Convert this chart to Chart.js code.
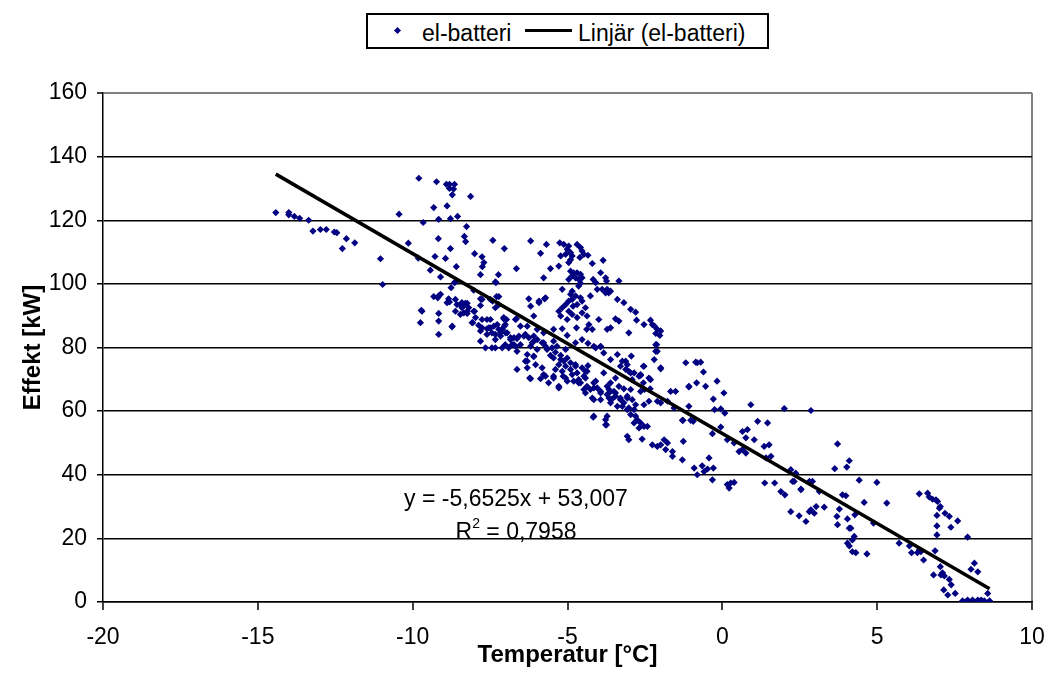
<!DOCTYPE html>
<html>
<head>
<meta charset="utf-8">
<script src="https://cdn.jsdelivr.net/npm/chart.js@4/dist/chart.umd.min.js"></script>
<style>
  html, body { margin: 0; padding: 0; background: #fff; }
  #wrap { position: relative; width: 1049px; height: 695px; }
  #legend { position: absolute; left: 366px; top: 13px; width: 403px; height: 36px;
            border: 2px solid #000; box-sizing: border-box; background: #fff; }
  .lg { position: absolute; font: 23px "Liberation Sans", Arial, sans-serif; line-height: 23px;
        white-space: nowrap; color: #000; }
  .dia { position: absolute; left: 26.5px; top: 12.5px; width: 5px; height: 5px;
         background: #000080; transform: rotate(45deg); }
  .ln { position: absolute; left: 157px; top: 14px; width: 47px; height: 3px; background: #000; }
</style>
</head>
<body>
<div id="wrap">
  <canvas id="chart" width="1049" height="695"></canvas>
  <div id="legend">
    <span class="dia"></span>
    <span class="lg" style="left:54px;top:7px;">el-batteri</span>
    <span class="ln"></span>
    <span class="lg" style="left:210px;top:7px;">Linjär (el-batteri)</span>
  </div>
</div>
<script>
const coldPts = [
  [-14.42,122.4],[-14.0,122.4],[-14.0,121.7],[-13.82,121.2],[-13.65,120.6],[-13.36,120.0],
  [-13.22,116.6],[-12.98,117.1],[-12.79,117.1],[-12.53,116.3],[-12.45,116.1],[-12.14,114.2],
  [-12.27,111.1],[-11.87,112.9],[-11.04,107.9],[-10.97,99.8],[-10.44,121.9],[-10.14,112.8]
];

const earlyPts = [
  [-9.80,133.2],[-9.66,119.3],[-9.82,108.1],[-9.43,104.3],[-9.32,124.0],[-9.23,132.1],
  [-9.16,120.3],[-9.17,114.2],[-9.28,108.6],[-8.94,108.0],[-9.10,102.2],[-8.91,131.3],
  [-8.81,131.3],[-8.65,131.3],[-8.68,129.8],[-8.81,130.0],[-8.72,128.0],[-8.89,124.5],
  [-8.78,120.5],[-8.55,121.2],[-8.13,127.5],[-8.26,118.0],[-8.33,114.9],[-8.29,113.3],
  [-8.78,111.1],[-8.59,105.4],[-8.0,109.5],[-7.76,108.5],[-7.70,106.7],[-7.75,105.4],
  [-7.41,113.7],[-7.04,111.1],[-6.65,104.8],[-7.23,102.9],[-7.81,102.9],[-7.31,100.4],
  [-8.65,100.4],[-8.76,98.8],[-8.03,98.0],[-9.32,96.0],[-9.16,96.2],[-9.10,96.7],
  [-8.84,95.3],[-8.81,94.3],[-8.62,95.1],[-8.57,93.5],[-8.41,94.1],[-8.33,93.2],
  [-8.24,93.9],[-8.19,92.5],[-7.81,95.3],[-7.81,93.2],[-7.22,96.0],[-7.42,94.6],
  [-9.72,91.7],[-9.75,87.8],[-9.16,90.7],[-9.16,88.3],[-8.72,86.7],[-9.16,84.1],
  [-8.35,90.9],[-8.46,90.4],[-8.24,90.7],[-8.0,91.4],[-8.06,87.8],[-7.76,88.8],
  [-7.60,88.8],[-7.49,88.8],[-7.87,87.0],[-7.76,86.2],[-7.60,85.9],[-7.49,86.2],
  [-7.27,87.2],[-7.22,85.7],[-7.16,84.6],[-7.33,84.1],[-6.95,84.6],[-7.06,89.0],
  [-6.65,89.0],[-8.62,100.6],[-7.33,100.6],[-9.19,95.6],[-8.89,94.1],[-8.46,93.5],
  [-8.30,93.9],[-8.41,92.5],[-8.24,91.4],[-8.62,91.4],[-9.70,91.4],[-8.73,86.5],
  [-8.03,91.4],[-7.97,89.4],[-8.08,87.8],[-7.76,95.1],[-7.49,95.1],[-7.29,96.0],
  [-7.22,93.5],[-7.33,92.5],[-7.54,86.2],[-7.38,86.7],[-7.81,85.2],[-7.60,84.1],
  [-7.44,84.6],[-7.81,82.0],[-7.33,82.5],[-7.16,83.6],[-7.33,79.9],[-7.65,79.9],
  [-7.44,79.9],[-7.0,84.6],[-6.97,88.8],[-7.04,86.7],[-6.84,82.5],[-6.73,83.1],
  [-6.63,82.8],[-6.79,80.9],[-6.68,80.4],[-6.52,80.9],[-6.63,78.8],[-6.90,79.9],
  [-7.11,79.9]
];

const upperPts = [
  [-6.19,113.5],[-5.68,112.4],[-5.25,112.9],[-5.12,112.4],[-4.96,111.9],[-5.01,110.9],
  [-4.90,109.8],[-4.85,108.8],[-4.69,112.4],[-4.58,111.4],[-4.53,110.3],[-4.47,109.3],
  [-4.34,109.0],[-4.60,108.3],[-5.87,109.6],[-5.22,108.8],[-5.06,109.3],[-4.90,107.6],
  [-4.96,106.7],[-5.55,104.8],[-5.28,105.6],[-4.20,106.4],[-3.85,107.4],[-5.77,101.9],
  [-4.90,104.0],[-4.80,103.5],[-4.69,103.5],[-4.58,103.0],[-4.85,102.5],[-4.74,101.9],
  [-4.96,101.4],[-4.64,101.4],[-4.53,101.9],[-3.93,103.5],[-4.17,101.4],[-4.09,100.4],
  [-3.74,100.9],[-3.77,101.9],[-3.34,100.9],[-5.17,98.3],[-4.85,97.7],[-4.64,99.3],
  [-4.58,100.2],[-4.04,98.3],[-3.88,98.3],[-3.72,98.3],[-3.61,97.7],[-3.67,97.2],
  [-3.77,97.2],[-4.26,96.2],[-6.25,95.3],[-5.92,94.6],[-6.19,93.0],[-5.71,95.6],
  [-4.90,96.7],[-4.96,94.6],[-4.85,95.1],[-4.74,96.2],[-4.58,95.6],[-4.53,94.6],
  [-4.69,93.5],[-4.82,93.0],[-5.06,93.5],[-5.17,92.5],[-5.28,91.4],[-5.22,89.9],
  [-4.96,91.4],[-4.85,90.4],[-4.53,90.9],[-5.01,88.8],[-4.69,89.4],[-4.42,92.5],
  [-4.37,89.9],[-3.39,95.1],[-3.18,94.1],[-2.96,92.0],[-2.80,91.1],[-2.77,88.6],
  [-2.32,88.6],[-2.26,87.2],[-2.19,86.7],[-2.10,85.7],[-2.15,84.4],[-2.53,87.2],
  [-1.99,85.2],[-2.02,83.8],[-3.99,88.8],[-3.72,85.7],[-3.61,86.2],[-3.45,89.0],
  [-3.34,88.3],[-4.31,87.2],[-4.20,85.7],[-4.38,85.7],[-4.71,86.2],[-5.45,85.7],
  [-5.17,85.9],[-5.01,83.8],[-3.02,84.6],[-5.92,94.1],[-5.74,95.3],[-6.09,89.9],
  [-6.30,86.7],[-5.98,85.7],[-5.77,84.6],[-6.41,83.6],[-6.09,82.0],[-5.82,81.5],
  [-6.19,80.4],[-5.98,79.4],[-5.71,80.4],[-5.45,82.0]
];

const densePts = [
  [-7.06,89.4],[-7.01,87.2],[-7.11,85.7],[-6.68,88.8],[-6.52,86.7],[-6.57,83.6],
  [-6.36,84.1],[-6.25,83.1],[-6.09,83.6],[-5.98,82.5],[-6.14,81.5],[-6.84,83.1],
  [-6.73,80.9],[-7.01,80.9],[-5.77,81.5],[-5.66,79.4],[-5.50,79.9],[-5.34,80.4],
  [-5.39,78.5],[-5.22,77.5],[-5.55,77.5],[-5.06,79.4],[-6.09,77.3],[-6.30,75.7],
  [-6.03,74.6],[-5.45,76.7],[-5.22,76.2],[-5.12,75.7],[-5.01,76.7],[-4.90,75.2],
  [-5.28,74.6],[-5.06,74.1],[-5.39,73.1],[-5.17,72.5],[-4.90,73.1],[-4.74,74.1],
  [-4.85,71.5],[-5.06,70.4],[-4.69,72.0],[-4.64,69.9],[-4.47,71.0],[-4.53,73.6],
  [-4.42,72.5],[-4.34,74.3],[-6.22,70.4],[-5.87,70.2],[-5.71,71.0],[-5.61,68.9],
  [-5.45,70.4],[-5.28,67.8],[-4.80,69.4],[-4.58,68.9],[-4.37,67.8],[-4.42,65.7],
  [-4.26,66.8],[-4.15,68.9],[-4.04,67.3],[-3.93,65.7],[-4.20,64.1],[-3.93,63.6],
  [-3.72,65.2],[-3.66,66.8],[-3.50,66.2],[-3.45,64.7],[-3.61,62.6],[-3.29,64.1],
  [-3.18,62.6],[-3.07,64.7],[-3.39,61.5],[-3.39,77.8],[-3.83,78.3],[-3.61,76.2],
  [-3.12,73.1],[-2.85,72.0],[-2.91,69.9],[-3.07,60.5],[-2.85,60.5],[-2.96,58.9],
  [-2.80,58.4],[-2.75,57.3],[-2.64,56.3],[-2.85,56.3],[-2.53,55.2],[-2.69,54.7],
  [-2.42,55.2],[-4.15,58.4],[-3.72,58.4],[-3.74,55.7],[-2.53,62.0],[-2.37,63.1],
  [-6.63,73.1],[-6.30,73.6],[-6.19,70.2],[-5.82,73.6],[-5.77,71.5],[-5.45,71.0],
  [-5.28,67.3],[-5.14,71.0],[-5.01,69.4],[-6.09,77.1],[-6.36,75.7],[-6.30,77.8],
  [-4.15,80.4],[-3.93,80.4],[-2.12,80.9],[-2.10,78.8],[-2.94,77.3],[-3.23,75.7],
  [-3.12,75.7],[-3.29,74.1],[-3.02,72.5],[-2.96,72.0],[-3.07,74.6],[-2.55,74.1],
  [-1.99,73.3],[-2.64,71.5],[-2.37,70.4],[-2.32,69.9],[-3.83,72.0],[-3.45,70.4],
  [-3.61,68.9],[-3.34,67.8],[-3.18,67.0],[-2.96,66.8],[-3.45,65.7],[-3.66,65.7],
  [-3.56,63.8],[-3.29,63.6],[-3.07,64.1],[-2.91,63.6],[-3.23,61.5],[-3.02,61.0],
  [-2.80,62.0],[-2.64,66.2],[-2.55,68.9],[-2.69,71.0],[-2.33,67.0],[-2.10,63.1],
  [-1.99,62.6],[-1.77,63.1],[-1.51,66.2],[-4.74,74.6],[-4.37,72.5],[-4.42,70.4],
  [-4.09,69.4],[-4.15,67.3],[-3.93,66.2],[-3.72,67.8],[-3.66,64.1],[-4.64,68.9],
  [-4.47,66.8],[-4.15,63.6],[-3.93,80.2],[-4.09,79.9],[-4.74,81.5],[-4.53,82.5],
  [-4.34,81.3],[-2.15,80.9],[-2.15,78.8],[-2.20,76.2],[-1.99,73.6],[-2.53,74.1],
  [-2.64,71.2],[-2.51,66.8],[-1.56,61.0]
];

const mildPts = [
  [-1.18,75.2],[-0.86,75.4],[-1.08,67.8],[-1.67,66.2],[-1.08,61.5],[-1.29,57.1],
  [-0.94,56.8],[-0.81,75.2],[-0.70,75.4],[-0.61,72.3],[-0.17,69.4],[-0.83,68.9],
  [-1.08,67.6],[-0.54,67.8],[0.05,65.7],[-0.29,63.8],[0.92,62.0],[2.0,60.8],
  [2.86,60.2],[-0.25,60.5],[-0.05,60.7],[0.08,59.4],[-1.02,57.1],[-1.27,57.1],
  [-0.32,52.9],[-0.05,55.0],[0.16,51.0],[0.38,50.0],[0.65,53.6],[0.81,54.2],
  [0.76,51.6],[0.65,47.9],[0.76,46.8],[0.54,47.3],[1.03,51.0],[1.14,56.8],
  [1.46,56.3],[1.35,48.9],[1.51,49.4],[1.57,45.8],[1.41,45.3],[-3.07,52.1],
  [-3.02,51.0],[-2.59,51.2],[-2.26,49.4],[-2.10,48.9],[-1.99,49.4],[-1.83,47.9],
  [-1.77,50.0],[-1.61,47.3],[-1.88,51.0],[-1.61,45.8],[-1.29,44.7],[-1.26,50.5],
  [-4.17,58.1],[-3.77,57.3],[-3.77,55.7],[-0.91,42.1],[-0.81,40.0],[-0.65,42.8],
  [-0.59,41.0],[-0.48,41.8],[-0.43,45.3],[-0.29,42.1],[-0.32,38.4],[0.16,36.9],
  [0.27,37.4],[0.38,37.6],[0.22,35.8],[1.37,37.4],[1.69,37.4],[2.02,33.7],
  [1.89,34.7],[2.27,37.9],[2.54,35.3],[2.21,28.4],[2.48,27.1],[2.81,28.4],
  [2.70,25.3],[2.97,27.9],[3.03,30.0],[2.86,29.0]
];

const warmPts = [
  [3.72,49.7],[4.10,44.4],[4.02,42.4],[3.63,41.9],[2.21,41.6],[2.37,40.5],
  [2.32,37.9],[2.54,35.5],[2.81,37.9],[2.91,37.9],[3.13,34.8],[3.29,29.8],
  [3.78,29.2],[3.70,26.9],[3.72,24.3],[4.04,26.1],[4.10,23.2],[4.15,23.2],
  [3.88,33.7],[3.99,33.4],[4.42,38.3],[4.99,37.6],[4.58,31.3],[5.31,31.1],
  [4.28,27.4],[4.26,20.6],[4.20,19.5],[4.04,18.5],[4.10,17.6],[4.20,15.8],
  [4.31,15.5],[4.67,15.1],[4.88,24.8],[5.71,18.5],[6.04,17.6],[6.11,15.5],
  [6.30,15.5],[6.41,15.8],[6.50,13.2],[6.36,16.4],[6.36,34.0],[6.63,34.2],
  [6.68,33.0],[6.79,32.3],[6.90,32.1],[6.95,31.6],[7.04,30.0],[7.01,29.5],
  [7.19,27.9],[7.33,26.9],[6.93,27.2],[6.93,23.9],[6.93,21.1],[7.38,23.5],
  [7.60,25.5],[7.92,20.4],[6.87,16.1],[7.04,11.1],[7.11,9.2],[7.17,8.2],
  [7.06,8.5],[7.33,7.1],[7.39,5.4],[7.15,3.8],[7.28,2.2],[7.52,2.7],
  [6.82,8.5],[8.14,12.2],[8.03,10.3],[8.25,9.5],[7.76,0.4],[7.92,0.6],
  [8.08,0.6],[8.25,0.6],[8.36,0.6],[8.46,0.4],[8.63,0.4],[8.57,2.7]
];

// Linear trendline ends (y = -5,6525x + 53,007 over the data range)
const trendX = [-14.42, 8.63];
const trendY = [134.5, 4.2];

const xTicks = [-20, 10, 5];   // min, max, step
const yTicks = [0, 160, 20];

const eqLine1 = 'y = -5,6525x + 53,007';
const eqLine2 = ['R', '2', ' = 0,7958'];

const FONT = '"Liberation Sans", Arial, sans-serif';

const allPts = [].concat(coldPts, earlyPts, upperPts, densePts, mildPts, warmPts)
  .map(([x, y]) => ({ x, y }));

// Draws the trendline equation text in the middle of the plot
const equationPlugin = {
  id: 'equation',
  afterDatasetsDraw(chart) {
    const { ctx } = chart;
    ctx.save();
    ctx.fillStyle = '#000';
    ctx.textBaseline = 'alphabetic';
    ctx.font = `23px ${FONT}`;
    ctx.textAlign = 'center';
    const cx = 516;
    ctx.fillText(eqLine1, cx, 506);

    ctx.textAlign = 'left';
    const wR = ctx.measureText(eqLine2[0]).width;
    const wRest = ctx.measureText(eqLine2[2]).width;
    ctx.font = `14px ${FONT}`;
    const w2 = ctx.measureText(eqLine2[1]).width;
    const x0 = cx - (wR + w2 + wRest) / 2;
    ctx.font = `23px ${FONT}`;
    ctx.fillText(eqLine2[0], x0, 539);
    ctx.font = `14px ${FONT}`;
    ctx.fillText(eqLine2[1], x0 + wR, 528);
    ctx.font = `23px ${FONT}`;
    ctx.fillText(eqLine2[2], x0 + wR + w2, 539);
    ctx.restore();
  },
};

new Chart(document.getElementById('chart'), {
  type: 'scatter',
  data: {
    datasets: [
      {
        label: 'Linjär (el-batteri)',
        data: trendX.map((x, i) => ({ x, y: trendY[i] })),
        showLine: true,
        borderColor: '#000',
        borderWidth: 3.5,
        pointRadius: 0,
        fill: false,
        order: 0,
      },
      {
        label: 'el-batteri',
        data: allPts,
        pointStyle: 'rectRot',
        pointRadius: 3.6,
        backgroundColor: '#000080',
        borderColor: '#000080',
        borderWidth: 0,
        order: 1,
      },
    ],
  },
  options: {
    responsive: false,
    animation: false,
    events: [],
    layout: { padding: { left: 0, right: 17, top: 93, bottom: 0 } },
    plugins: { legend: { display: false }, tooltip: { enabled: false } },
    scales: {
      x: {
        type: 'linear',
        min: xTicks[0],
        max: xTicks[1],
        afterFit: (s) => { s.height = 93; s.paddingLeft = 0; s.paddingRight = 12; },
        ticks: { stepSize: xTicks[2], color: '#000', font: { family: FONT, size: 23 }, padding: 14 },
        grid: {
          color: (c) => (c.tick && c.tick.value === 10 ? '#808080' : 'rgba(0,0,0,0)'),
          lineWidth: 2,
          tickLength: 8,
          tickColor: '#000',
          tickWidth: 1.5,
        },
        border: { color: '#000', width: 1.5 },
        title: {
          display: true,
          text: 'Temperatur [°C]',
          color: '#000',
          font: { family: FONT, size: 24, weight: 'bold' },
          padding: { top: 0, bottom: 25 },
        },
      },
      y: {
        min: yTicks[0],
        max: yTicks[1],
        afterFit: (s) => { s.width = 103; },
        ticks: { stepSize: yTicks[2], color: '#000', font: { family: FONT, size: 23 }, padding: 10 },
        grid: {
          color: (c) => (c.tick && c.tick.value === 160 ? '#808080' : '#000'),
          lineWidth: (c) => (c.tick && c.tick.value === 160 ? 2 : 1.5),
          tickLength: 6,
          tickColor: '#000',
          tickWidth: 1.5,
        },
        border: { color: '#000', width: 1.5 },
        title: {
          display: true,
          text: 'Effekt [kW]',
          color: '#000',
          font: { family: FONT, size: 24, weight: 'bold' },
          padding: { top: 19, bottom: 0 },
        },
      },
    },
  },
  plugins: [equationPlugin],
});
</script>
</body>
</html>
